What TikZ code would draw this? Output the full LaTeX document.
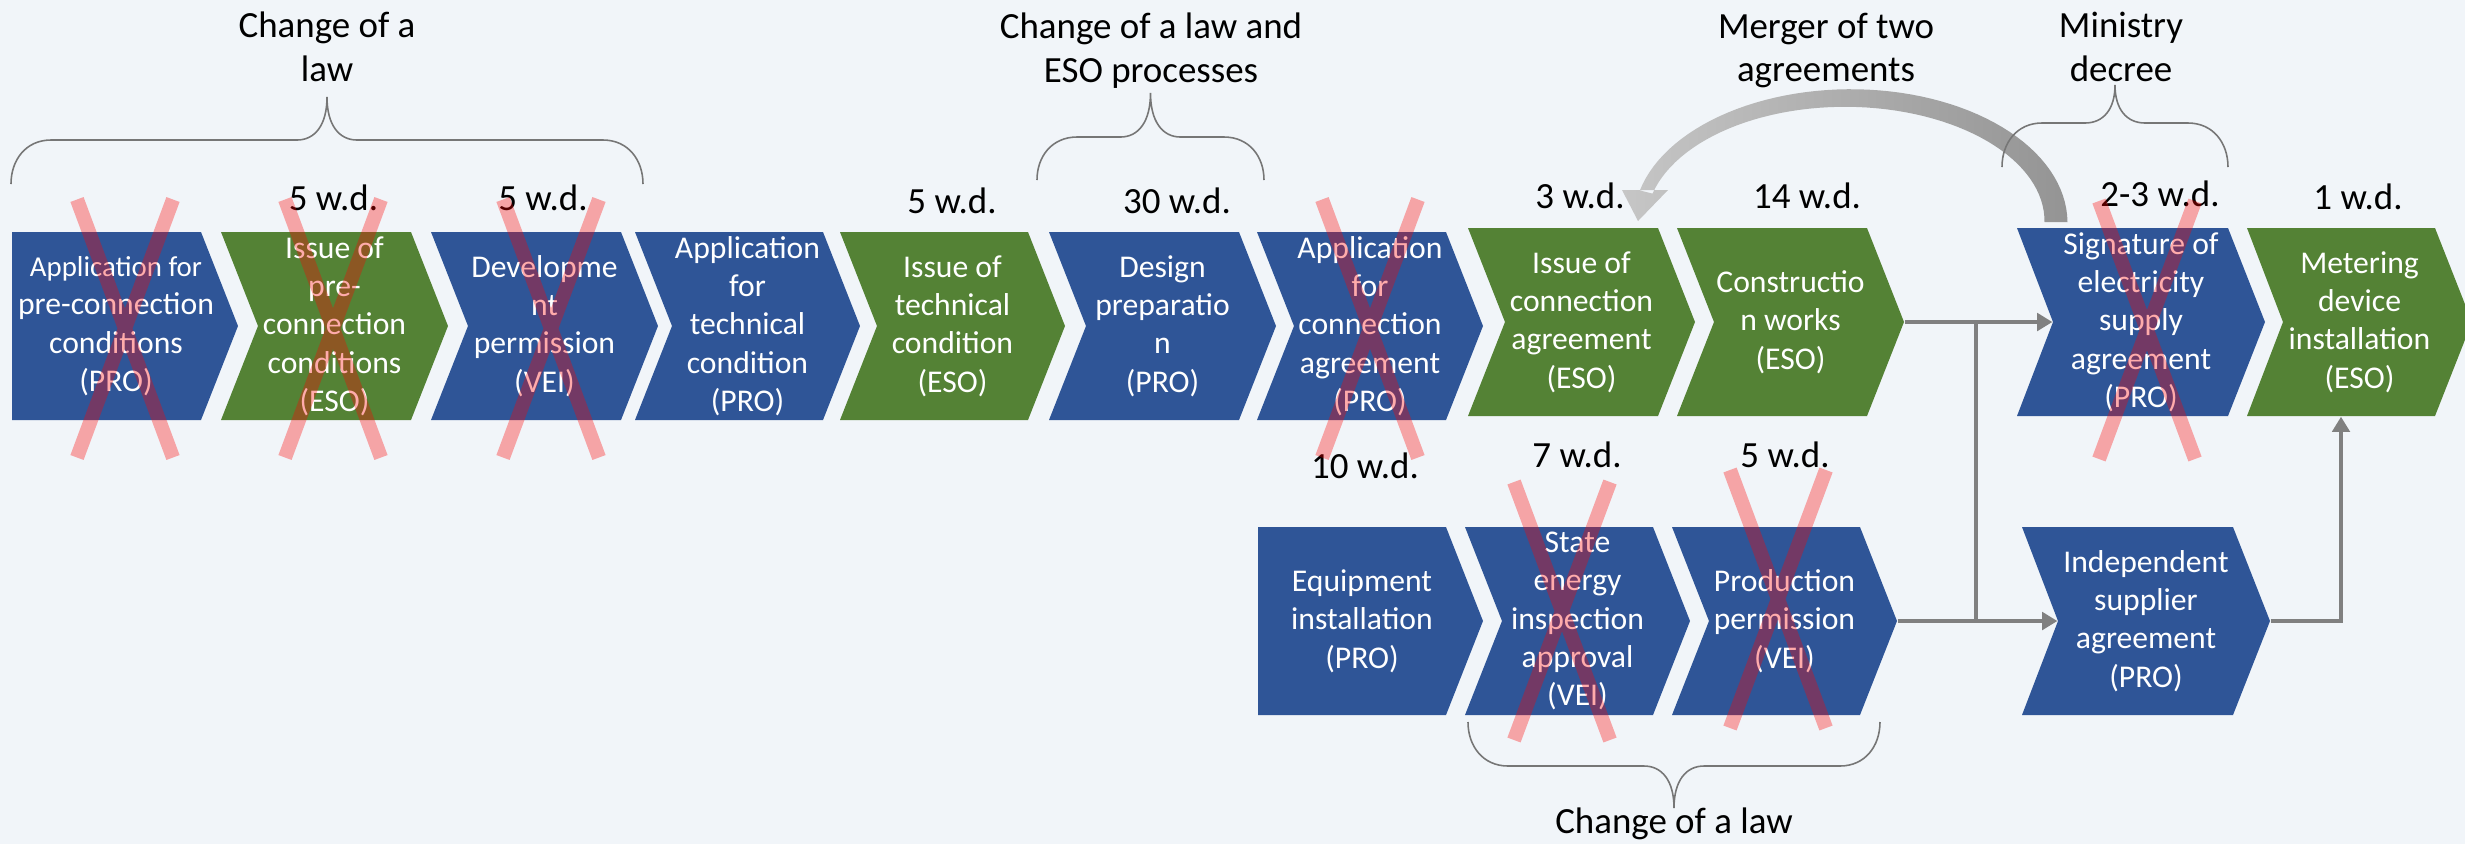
\documentclass[tikz,border=0pt]{standalone}
\usepackage{fontspec}
\setmainfont{Carlito}
\usetikzlibrary{arrows.meta}
\definecolor{bg}{RGB}{241,245,249}
\definecolor{cblue}{RGB}{47,85,151}
\definecolor{cgreen}{RGB}{84,130,53}
\definecolor{lgray}{RGB}{128,128,128}
\definecolor{bgray}{RGB}{118,118,118}
\definecolor{arrL}{RGB}{198,198,198}
\definecolor{arrR}{RGB}{148,148,148}
% name, left x, top y, body width, notch, colour, text
\newcommand\chevron[7]{%
  \fill[#6] (#2,#3) -- ++(#4,0) -- ++(37,94) -- ++(-37,94) -- ++(-#4,0) -- ++(#5,-94) -- cycle;
  \node[chevtext, minimum width={(#4+37)*0.01cm}] (#1) at ({#2+(#4+37)/2},{#3+94}) {#7};
}
% flat-left variant: name, left x, top y, body width, colour, text
\newcommand\homeplate[6]{%
  \fill[#5] (#2,#3) -- ++(#4,0) -- ++(37,94) -- ++(-37,94) -- ++(-#4,0) -- cycle;
  \node[chevtext, minimum width={208*0.01cm}] (#1) at ({#2+104},{#3+94}) {#6};
}
% x1, x2, y end, y flat, y tip
\newcommand\tbrace[5]{%
  \draw[brc] (#1,#3) .. controls (#1,{#4+0.45*(#3-#4)}) and ({#1+15},#4) .. ({#1+40},#4)
    -- ({(#1+#2)/2-30},#4) .. controls ({(#1+#2)/2-12},#4) and ({(#1+#2)/2},{#4+0.35*(#5-#4)}) .. ({(#1+#2)/2},#5)
    .. controls ({(#1+#2)/2},{#4+0.35*(#5-#4)}) and ({(#1+#2)/2+12},#4) .. ({(#1+#2)/2+30},#4)
    -- ({#2-40},#4) .. controls ({#2-15},#4) and (#2,{#4+0.45*(#3-#4)}) .. (#2,#3);
}
\newcommand\xout[2]{%
  \draw[xmark] ({#1-48},{#2-129}) -- ({#1+48},{#2+129}) ({#1+48},{#2-129}) -- ({#1-48},{#2+129});
}
\begin{document}
\begin{tikzpicture}[x=0.01cm,y=-0.01cm,
  chevtext/.style={inner sep=0pt, minimum height=1.88cm, align=center, text=white,
    font=\fontsize{9}{10.9}\selectfont},
  lbl/.style={font=\fontsize{10.5}{12.5}\selectfont, align=center, inner sep=0pt},
  conn/.style={draw=lgray, line width=0.9pt},
  arr/.style={-{Triangle[length=4.3pt,width=5pt]}},
  brc/.style={draw=bgray, line width=0.45pt},
  xmark/.style={draw=red, line width=4pt, opacity=0.33}]
\useasboundingbox (0,0) rectangle (2465,844);
\fill[bg] (0,0) rectangle (2465,844);

% top row
\homeplate{n1}{12}{232}{189}{cblue}{\fontsize{8.2}{10.9}\selectfont Application for\\pre-connection\\conditions\\(PRO)}
\chevron{n2}{221}{232}{190}{37}{cgreen}{Issue of\\pre-\\connection\\conditions\\(ESO)}
\chevron{n3}{431}{232}{190}{37}{cblue}{Developme\\nt\\permission\\(VEI)}
\chevron{n4}{635}{232}{188}{37}{cblue}{Application\\for\\technical\\condition\\(PRO)}
\chevron{n5}{840}{232}{188}{37}{cgreen}{Issue of\\technical\\condition\\(ESO)}
\chevron{n6}{1049}{232}{190}{37}{cblue}{Design\\preparatio\\n\\(PRO)}
\chevron{n7}{1257}{232}{189}{37}{cblue}{Application\\for\\connection\\agreement\\(PRO)}
\chevron{n8}{1468}{228}{190}{37}{cgreen}{Issue of\\connection\\agreement\\(ESO)}
\chevron{n9}{1677}{228}{190}{37}{cgreen}{Constructio\\n works\\(ESO)}
\chevron{n10}{2017}{228}{211}{36}{cblue}{Signature of\\electricity\\supply\\agreement\\(PRO)}
\chevron{n11}{2247}{228}{188}{36}{cgreen}{Metering\\device\\installation\\(ESO)}

% bottom row
\homeplate{b1}{1258}{527}{188}{cblue}{Equipment\\installation\\(PRO)}
\chevron{b2}{1465}{527}{188}{37}{cblue}{State\\energy\\inspection\\approval\\(VEI)}
\chevron{b3}{1672}{527}{188}{37}{cblue}{Production\\permission\\(VEI)}
\chevron{b4}{2022}{527}{211}{36}{cblue}{Independent\\supplier\\agreement\\(PRO)}

% connectors
\coordinate (j1) at (1976,322);
\coordinate (j2) at (1976,621);
\coordinate (m1) at (2341,621);
\draw[conn, arr] (n9.east) -- ([xshift=0.36cm]n10.west);
\draw[conn] (j1) -- (j2);
\draw[conn, arr] (b3.east) -- ([xshift=0.36cm]b4.west);
\draw[conn, arr] (b4.east) -- (m1) -- (m1 |- n11.south);

% curved arrow (merger)
\shade[left color=arrL, right color=arrR]
  plot[domain=0:166, samples=60, variable=\t] ({1848+(208+11.5-5*\t/166)*cos(\t)}, {222-(124+11.5-5*\t/166)*sin(\t)})
  -- plot[domain=166:0, samples=60, variable=\t] ({1848+(208-11.5+5*\t/166)*cos(\t)}, {222-(124-11.5+5*\t/166)*sin(\t)})
  -- cycle
  (1622,190) -- (1668,190) -- (1638,221) -- cycle;

% braces
\tbrace{11}{643}{184}{140}{97}
\tbrace{1037}{1264}{180}{137}{93}
\tbrace{2002}{2228}{167}{123}{85}
\tbrace{1468}{1880}{722}{766}{808}

% titles
\node[lbl] (t1) at (327,47) {Change of a\\law};
\node[lbl] (t2) at (1151,50.5) {Change of a law and\\ESO processes};
\node[lbl] (t3) at (1826,50.5) {Merger of two\\agreements};
\node[lbl] (t4) at (2121,47) {Ministry\\decree};
\node[lbl, anchor=base] (t5) at (1674,833) {Change of a law};

% durations
\node[lbl, anchor=base] (d2) at (333.5,210) {5 w.d.};
\node[lbl, anchor=base] (d3) at (543,210) {5 w.d.};
\node[lbl, anchor=base] (d5) at (952,213) {5 w.d.};
\node[lbl, anchor=base] (d6) at (1177,213) {30 w.d.};
\node[lbl, anchor=base] (d8) at (1580,208) {3 w.d.};
\node[lbl, anchor=base] (d9) at (1807,208) {14 w.d.};
\node[lbl, anchor=base] (d10) at (2160,206) {2-3 w.d.};
\node[lbl, anchor=base] (d11) at (2358,209) {1 w.d.};
\node[lbl, anchor=base] (e1) at (1365,478) {10 w.d.};
\node[lbl, anchor=base] (e2) at (1577,467) {7 w.d.};
\node[lbl, anchor=base] (e3) at (1785,467) {5 w.d.};

% crosses
\xout{125}{328.5}
\xout{333}{328.5}
\xout{551}{328.5}
\xout{1370}{328.5}
\xout{2147}{330}
\xout{1562}{611}
\xout{1778}{599}
\end{tikzpicture}
\end{document}
